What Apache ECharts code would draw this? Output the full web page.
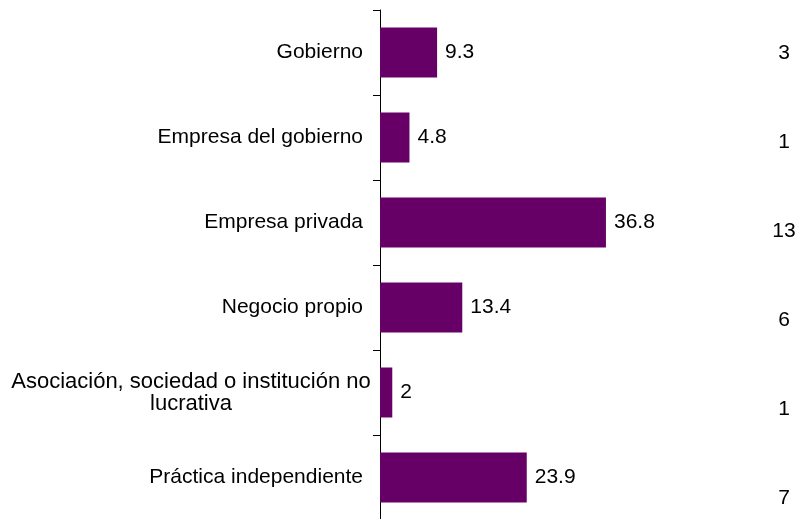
<!DOCTYPE html>
<html>
<head>
<meta charset="utf-8">
<script src="https://cdn.jsdelivr.net/npm/echarts@6/dist/echarts.min.js"></script>
<style>
html,body{margin:0;padding:0;background:#fff;}
#c{width:800px;height:519px;}
</style>
</head>
<body>
<div id="c"></div>
<script>
var categories = ['Gobierno', 'Empresa del gobierno', 'Empresa privada', 'Negocio propio', 'Asociación, sociedad o institución no\nlucrativa', 'Práctica independiente'];
var values = [9.3, 4.8, 36.8, 13.4, 2, 23.9];
var rightNumbers = ['3', '1', '13', '6', '1', '7'];

var FONT = "'Liberation Sans', Arial, sans-serif";
var chart = echarts.init(document.getElementById('c'), null, {renderer: 'canvas'});
chart.setOption({
  animation: false,
  backgroundColor: '#ffffff',
  grid: [
    {left: 380, top: 10, width: 245.6, bottom: -1, containLabel: false, outerBoundsMode: 'none'},
    {left: 784, top: 53, width: 1, bottom: 21, containLabel: false, outerBoundsMode: 'none'}
  ],
  xAxis: [
    {gridIndex: 0, type: 'value', min: 0, max: 40, show: false},
    {gridIndex: 1, type: 'value', min: 0, max: 1, show: false}
  ],
  yAxis: [
    {
      gridIndex: 0, type: 'category', data: categories, inverse: true,
      axisLine: {show: true, lineStyle: {color: '#000', width: 1}},
      axisTick: {show: true, length: 7, lineStyle: {color: '#000'}},
      axisLabel: {
        color: '#000', fontSize: 21, fontFamily: FONT, margin: 8, lineHeight: 22, align: 'right',
        formatter: function (v) {
          if (v.indexOf('\n') < 0) return '{p|' + v + '}';
          return v.split('\n').map(function (s) { return '{c|' + s + '}'; }).join('\n');
        },
        rich: {
          p: {fontSize: 21, fontFamily: FONT, color: '#000', padding: [0, 9, 0, 0]},
          c: {width: 362, align: 'center', fontSize: 22, fontFamily: FONT, color: '#000', lineHeight: 22}
        }
      },
      splitLine: {show: false}
    },
    {
      gridIndex: 1, type: 'category', data: rightNumbers, inverse: true, boundaryGap: false,
      position: 'left',
      axisLine: {show: false}, axisTick: {show: false}, splitLine: {show: false},
      axisLabel: {color: '#000', fontSize: 21, fontFamily: FONT, margin: 0, align: 'center'}
    }
  ],
  series: [{
    type: 'bar', xAxisIndex: 0, yAxisIndex: 0,
    data: values, barWidth: 50,
    itemStyle: {color: '#660066'},
    label: {show: true, position: 'right', distance: 8, color: '#000', fontSize: 21, fontFamily: FONT}
  }]
});
</script>
</body>
</html>
